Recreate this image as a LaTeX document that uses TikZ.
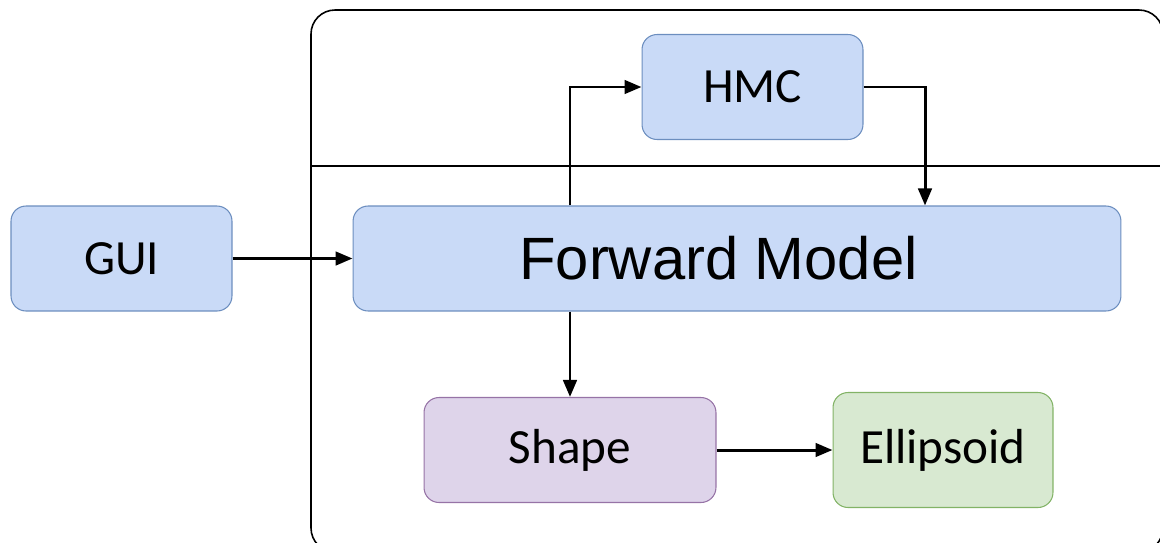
\documentclass[tikz,border=0pt]{standalone}
\usepackage{fontspec}
\newfontfamily\calfont{Carlito}
\newfontfamily\arialfont{Liberation Sans}
\usetikzlibrary{arrows.meta, positioning}
\definecolor{bluefill}{RGB}{201,218,247}
\definecolor{bluedraw}{RGB}{108,142,191}
\definecolor{purplefill}{RGB}{222,212,234}
\definecolor{purpledraw}{RGB}{150,115,166}
\definecolor{greenfill}{RGB}{216,233,209}
\definecolor{greendraw}{RGB}{130,179,102}
\tikzset{
  module/.style={rectangle, rounded corners=0.3cm, minimum width=4.42cm, minimum height=2.1cm, text centered, line width=0.6pt, font=\calfont\fontsize{28}{32}\selectfont},
  bluebox/.style={module, draw=bluedraw, fill=bluefill},
  purplebox/.style={module, draw=purpledraw, fill=purplefill},
  greenbox/.style={module, draw=greendraw, fill=greenfill},
  arrow/.style={line width=1.7pt, -{Triangle[length=0.34cm, width=0.27cm]}}
}

\begin{document}
\begin{tikzpicture}[x=0.02cm, y=-0.02cm]

    \useasboundingbox (0,0) rectangle (1160,542);

    % Rahmen
    \draw[line width=0.9pt, rounded corners=0.48cm] (311,10) rectangle (1163,552);
    \draw[line width=0.9pt] (311,166) -- (1163,166);

    % Bausteine
    \node[bluebox] (gui) at (121.5,258.5) {GUI};
    \node[bluebox, minimum width=15.36cm, font=\arialfont\fontsize{34}{40}\selectfont] (fwd) at (737,258.5) {Forward Model\hspace*{0.74cm}};
    \node[bluebox] (hmc) at (752.5,87) {HMC};
    \node[purplebox, minimum width=5.84cm] (shape) at (570,450) {Shape};
    \node[greenbox, minimum width=4.4cm, minimum height=2.3cm] (ell) at (943,450) {Ellipsoid};

    % Verbindungen
    \draw[arrow] (gui) -- (fwd);
    \draw[arrow] (fwd.north -| 570,0) |- (hmc);
    \draw[arrow] (hmc) -| (fwd.north -| 925,0);
    \draw[arrow] (fwd.south -| 570,0) -- (shape);
    \draw[arrow] (shape) -- (ell);

\end{tikzpicture}
\end{document}
